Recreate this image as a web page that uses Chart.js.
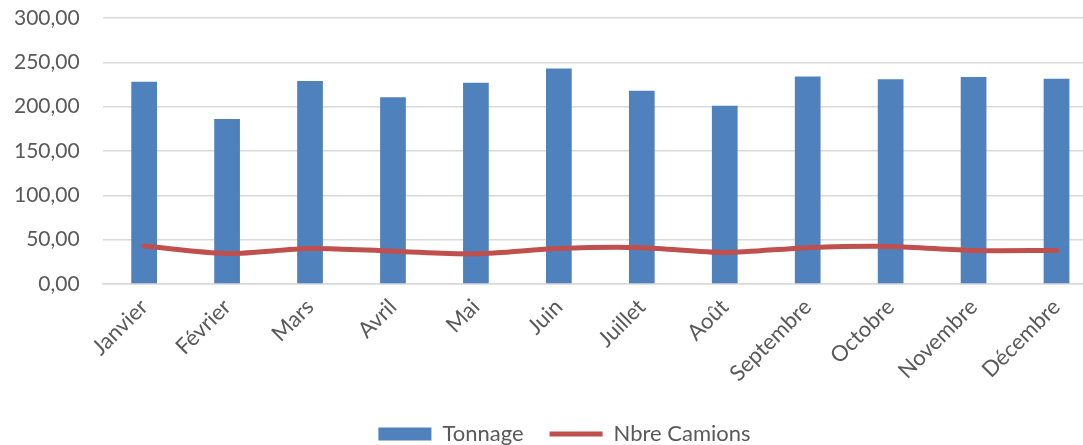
<!DOCTYPE html>
<html>
<head>
<meta charset="utf-8">
<script src="https://cdn.jsdelivr.net/npm/chart.js@4"></script>
<style>
  html, body { margin: 0; padding: 0; background: #fff; overflow: hidden; }
  #wrap { width: 1130px; height: 445px; position: relative; }
</style>
</head>
<body>
<div id="wrap"><canvas id="chart"></canvas></div>
<script>
const months = ['Janvier', 'Février', 'Mars', 'Avril', 'Mai', 'Juin', 'Juillet', 'Août', 'Septembre', 'Octobre', 'Novembre', 'Décembre'];
const tonnage = [228, 186, 229, 210.6, 227, 243, 218, 201, 234, 231, 233.5, 231.5];
const camions = [42.8, 34.5, 40, 37, 34, 40, 41, 35.6, 41, 42.4, 37.8, 37.8];

const fontFamily = 'Lato, "Open Sans", sans-serif';
const textColor = '#595959';
const gridColor = '#d9d9d9';

// the legend is centred on the whole chart, not on the padded area
const legendShift = {
  id: 'legendShift',
  afterLayout(chart) {
    chart.legend.left += 20;
    chart.legend.right += 20;
  }
};

const chart = new Chart(document.getElementById('chart'), {
  data: {
    labels: months,
    datasets: [{
      type: 'bar',
      label: 'Tonnage',
      data: tonnage,
      backgroundColor: '#4f81bd',
      borderWidth: 0,
      barPercentage: 0.31,
      categoryPercentage: 1,
      order: 2
    }, {
      type: 'line',
      label: 'Nbre Camions',
      data: camions,
      borderColor: '#c0504d',
      backgroundColor: '#c0504d',
      borderWidth: 5,
      borderCapStyle: 'round',
      tension: 0.3,
      pointRadius: 0,
      order: 1
    }]
  },
  options: {
    responsive: true,
    maintainAspectRatio: false,
    animation: false,
    layout: { padding: { left: -9, right: 32, top: 18, bottom: -10 } },
    plugins: {
      tooltip: { enabled: false },
      legend: {
        position: 'bottom',
        labels: {
          usePointStyle: true,
          pointStyleWidth: 53,
          boxHeight: 13,
          padding: 26,
          color: textColor,
          font: { family: fontFamily, size: 22 },
          sort: (a, b) => a.datasetIndex - b.datasetIndex,
          generateLabels: (c) => {
            const items = Chart.defaults.plugins.legend.labels.generateLabels(c);
            items.forEach(it => {
              it.pointStyle = it.datasetIndex === 0 ? 'rect' : 'line';
            });
            return items;
          }
        }
      }
    },
    scales: {
      x: {
        grid: { display: false },
        border: { color: gridColor, width: 1.5 },
        ticks: {
          color: textColor,
          font: { family: fontFamily, size: 22 },
          maxRotation: 45,
          minRotation: 45,
          padding: 2
        },
        afterFit: (s) => { s.paddingLeft = 0; s.paddingRight = 0; s.height = 113; }
      },
      y: {
        min: 0,
        max: 300,
        grid: { color: gridColor, lineWidth: 1.5, drawTicks: false },
        border: { display: false },
        ticks: {
          stepSize: 50,
          padding: 23,
          color: textColor,
          font: { family: fontFamily, size: 21 },
          callback: (v) => v.toFixed(2).replace('.', ',')
        },
        afterFit: (s) => { s.paddingTop = 0; s.paddingBottom = 0; }
      }
    }
  },
  plugins: [legendShift]
});
</script>
</body>
</html>
